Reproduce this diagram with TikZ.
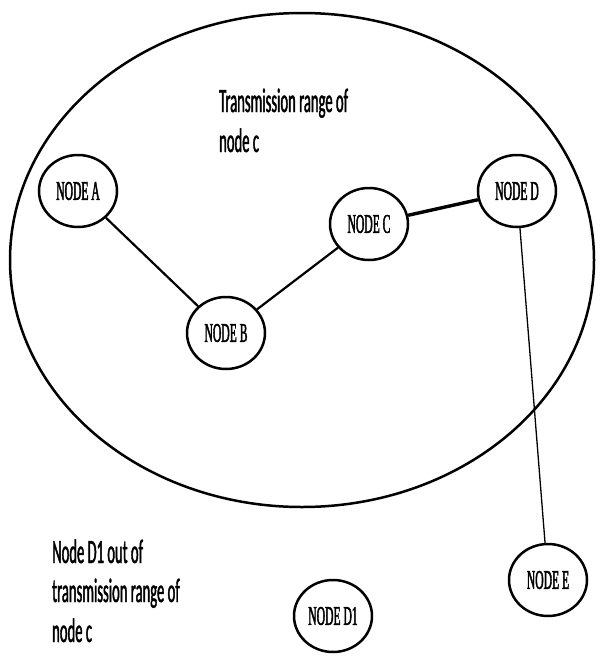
\documentclass[tikz,border=0pt]{standalone}
\usepackage{fontspec}
\usetikzlibrary{shapes.geometric}
\newfontfamily\labfont[FakeStretch=0.43,FakeBold=1.2]{Carlito}
\newfontfamily\nodefont[FakeStretch=0.43,FakeBold=1.5]{Liberation Serif}
\begin{document}
\begin{tikzpicture}[x=1pt,y=-1pt,
  netnode/.style={draw, ellipse, line width=2.5pt, minimum width=78pt, minimum height=72pt, inner sep=0pt,
    font=\nodefont\fontsize{27}{28}\selectfont},
  lab/.style={anchor=base west, inner sep=0pt, font=\labfont\fontsize{34}{36}\selectfont},
  link/.style={line width=2.2pt}]
\useasboundingbox (0,0) rectangle (603,656);
\fill[white] (0,0) rectangle (603,656);
\node[draw, ellipse, line width=2.5pt, minimum width=584pt, minimum height=494pt, inner sep=0pt] (range) at (302,260) {};
\node[netnode] (nA) at (78,191) {NODE A};
\node[netnode] (nB) at (226,333) {NODE B};
\node[netnode] (nC) at (369,224) {NODE C};
\node[netnode] (nD) at (517,191) {NODE D};
\node[netnode] (nE) at (548,580) {NODE E};
\node[netnode] (nD1) at (333,616) {NODE D1};
\draw[link] (nA) -- (nB);
\draw[link] (nB) -- (nC);
\draw[line width=3.4pt] (nC) -- (nD);
\draw[line width=1.3pt] (nD) -- (nE);
\node[lab] (t1) at (219,112) {Transmission range of};
\node[lab] (t2) at (219,152) {node c};
\node[lab] (t3) at (52,563) {Node D1 out of};
\node[lab] (t4) at (52,602) {transmission range of};
\node[lab] (t5) at (52,642) {node c};
\end{tikzpicture}
\end{document}
